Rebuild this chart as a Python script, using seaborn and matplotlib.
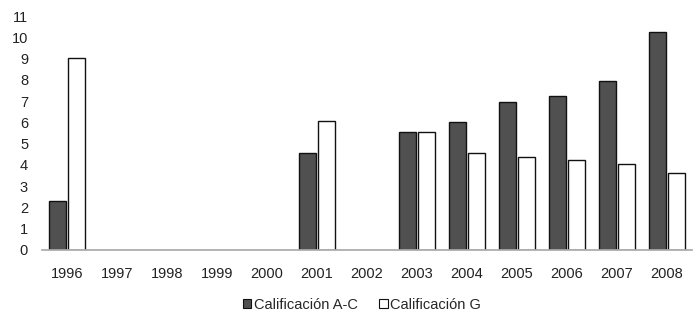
import numpy as np
import pandas as pd
import seaborn as sns
from matplotlib import pyplot as plt

sns.set_theme(style="white")
plt.rcParams['font.family'] = ['Liberation Sans', 'DejaVu Sans']

years = ["1996", "1997", "1998", "1999", "2000", "2001", "2002",
         "2003", "2004", "2005", "2006", "2007", "2008"]
calif_ac = [2.3, np.nan, np.nan, np.nan, np.nan, 4.55, np.nan,
            5.55, 6.0, 6.95, 7.25, 7.95, 10.25]
calif_g = [9.05, np.nan, np.nan, np.nan, np.nan, 6.05, np.nan,
           5.55, 4.55, 4.37, 4.23, 4.04, 3.62]
series = ["Calificación A-C", "Calificación G"]
colors = ["#505050", "white"]

df = pd.DataFrame({
    "year": years * 2,
    "value": calif_ac + calif_g,
    "serie": [series[0]] * len(years) + [series[1]] * len(years),
})

fig = plt.figure(figsize=(6.96, 3.16), dpi=100)
ax = fig.add_axes([0.0603, 0.209, 0.934, 0.74])
sns.barplot(data=df, x="year", y="value", hue="serie", order=years,
            hue_order=series, palette=colors,
            edgecolor="#111111", linewidth=1.0, width=0.78, gap=0.12,
            ax=ax, legend=False)

ax.set_xlim(-0.5, len(years) - 0.5)
ax.set_ylim(0, 11)
ax.set_yticks(range(0, 12))
ax.set_xlabel("")
ax.set_ylabel("")
for s in ["top", "right", "left"]:
    ax.spines[s].set_visible(False)
ax.spines["bottom"].set_color("#aaaaaa")
ax.tick_params(axis="both", length=0, labelsize=10.5, colors="#222222")
ax.tick_params(axis="x", pad=12)
ax.tick_params(axis="y", pad=10)

handles = [plt.Rectangle((0, 0), 1, 1, facecolor=c, edgecolor="#111111", linewidth=0.8)
           for c in colors]
fig.legend(handles, series, loc="center", bbox_to_anchor=(0.52, 0.035), ncol=2,
           frameon=False, fontsize=10.5, handlelength=0.6, handleheight=0.6,
           handletextpad=0.15, columnspacing=1.5)

fig.savefig("out.png", dpi=100)
